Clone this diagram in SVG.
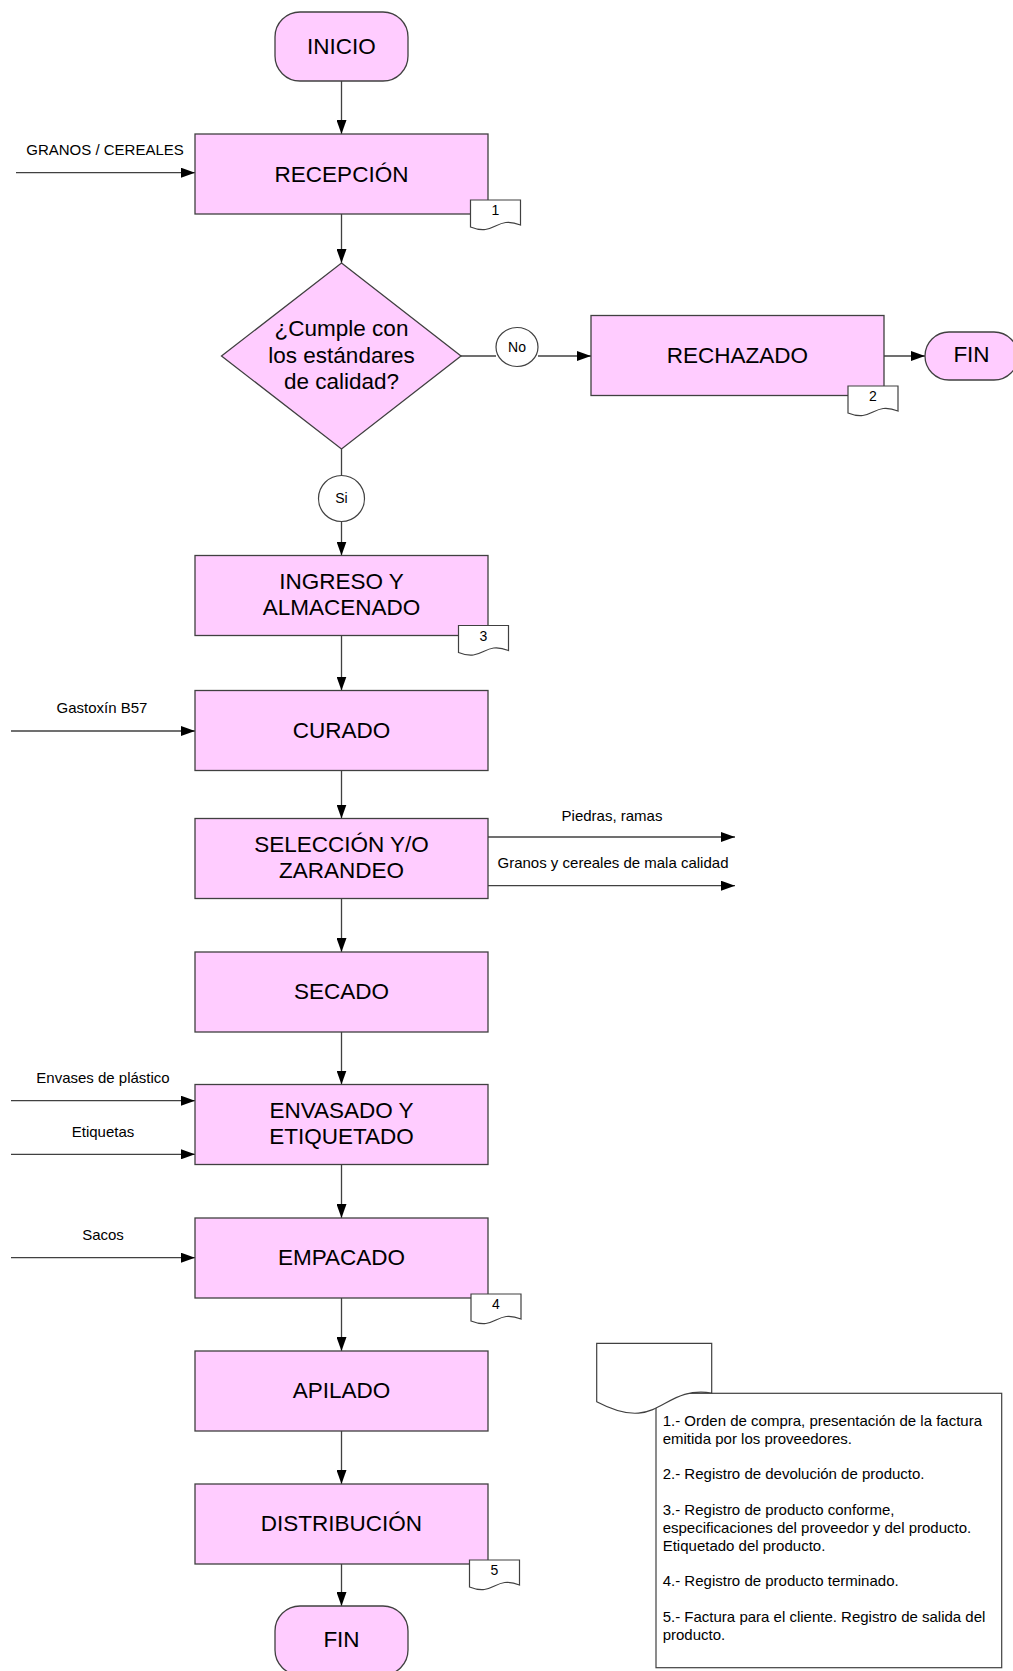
<svg xmlns="http://www.w3.org/2000/svg" width="1013" height="1671" viewBox="0 0 1013 1671">
<style>
text{font-family:"Liberation Sans",Arial,sans-serif;fill:#000}
.proc{fill:#FFCCFF;stroke:#404040;stroke-width:1.3}
.lbl{font-size:22.5px;text-anchor:middle}
.sm{font-size:15px;text-anchor:middle}
.num{font-size:14px;text-anchor:middle}
.conn line{stroke:#404040;stroke-width:1.3;fill:none}
.doc{fill:#fff;stroke:#404040;stroke-width:1.2}
.circ{fill:#fff;stroke:#404040;stroke-width:1.2}
.note{font-size:15px}
</style>
<defs>
<marker id="arr" markerUnits="userSpaceOnUse" markerWidth="14" markerHeight="10" refX="14" refY="5" orient="auto">
<path d="M0,0 L14,5 L0,10 z" fill="#000"/>
</marker>
<path id="tag" d="M0,0 H50 V25 C25,15 25,37 0,27 Z"/>
</defs>
<rect width="1013" height="1671" fill="#fff"/>

<g class="conn">
<line x1="341.5" y1="81" x2="341.5" y2="134" marker-end="url(#arr)"/>
<line x1="341.5" y1="214" x2="341.5" y2="263" marker-end="url(#arr)"/>
<line x1="341.5" y1="449" x2="341.5" y2="475.5"/>
<line x1="341.5" y1="521.5" x2="341.5" y2="555.5" marker-end="url(#arr)"/>
<line x1="341.5" y1="635.5" x2="341.5" y2="690.5" marker-end="url(#arr)"/>
<line x1="341.5" y1="770.5" x2="341.5" y2="818.5" marker-end="url(#arr)"/>
<line x1="341.5" y1="898.5" x2="341.5" y2="952" marker-end="url(#arr)"/>
<line x1="341.5" y1="1032" x2="341.5" y2="1084.5" marker-end="url(#arr)"/>
<line x1="341.5" y1="1164.5" x2="341.5" y2="1218" marker-end="url(#arr)"/>
<line x1="341.5" y1="1298" x2="341.5" y2="1351" marker-end="url(#arr)"/>
<line x1="341.5" y1="1431" x2="341.5" y2="1484" marker-end="url(#arr)"/>
<line x1="341.5" y1="1564" x2="341.5" y2="1606" marker-end="url(#arr)"/>
<line x1="461" y1="356" x2="496" y2="356"/>
<line x1="538" y1="356" x2="591" y2="356" marker-end="url(#arr)"/>
<line x1="884" y1="356" x2="925" y2="356" marker-end="url(#arr)"/>
<line x1="16" y1="172.7" x2="195" y2="172.7" marker-end="url(#arr)"/>
<line x1="11" y1="731" x2="195" y2="731" marker-end="url(#arr)"/>
<line x1="488" y1="837" x2="735" y2="837" marker-end="url(#arr)"/>
<line x1="488" y1="885.7" x2="735" y2="885.7" marker-end="url(#arr)"/>
<line x1="11" y1="1100.7" x2="195" y2="1100.7" marker-end="url(#arr)"/>
<line x1="11" y1="1154.3" x2="195" y2="1154.3" marker-end="url(#arr)"/>
<line x1="11" y1="1257.7" x2="195" y2="1257.7" marker-end="url(#arr)"/>
</g>

<g id="flow-labels">
<text class="sm" x="105" y="155">GRANOS / CEREALES</text>
<text class="sm" x="102" y="713">Gastoxín B57</text>
<text class="sm" x="612" y="820.7">Piedras, ramas</text>
<text class="sm" x="613" y="868">Granos y cereales de mala calidad</text>
<text class="sm" x="103" y="1083">Envases de plástico</text>
<text class="sm" x="103" y="1136.7">Etiquetas</text>
<text class="sm" x="103" y="1240">Sacos</text>
</g>

<g id="inicio">
<rect class="proc" x="275" y="12" width="133" height="69" rx="25" ry="25"/>
<text class="lbl" x="341.5" y="54">INICIO</text>
</g>

<g id="recepcion">
<rect class="proc" x="195" y="134" width="293" height="80"/>
<text class="lbl" x="341.5" y="181.5">RECEPCIÓN</text>
</g>
<g id="doc1">
<use href="#tag" class="doc" x="470.5" y="200"/>
<text class="num" x="495.5" y="215">1</text>
</g>

<g id="decision">
<polygon class="proc" points="341.5,263 461,356 341.5,449 221.5,356"/>
<text class="lbl" x="341.5" y="336">¿Cumple con</text>
<text class="lbl" x="341.5" y="362.5">los estándares</text>
<text class="lbl" x="341.5" y="389">de calidad?</text>
</g>

<g id="no">
<ellipse class="circ" cx="517" cy="347" rx="21" ry="19.5"/>
<text class="num" x="517" y="352">No</text>
</g>

<g id="rechazado">
<rect class="proc" x="591" y="315.5" width="293" height="80"/>
<text class="lbl" x="737.5" y="363">RECHAZADO</text>
</g>
<g id="doc2">
<use href="#tag" class="doc" x="848" y="386"/>
<text class="num" x="873" y="401">2</text>
</g>

<g id="fin-rechazo">
<rect class="proc" x="925" y="332" width="93" height="48" rx="24" ry="24"/>
<text class="lbl" x="971.5" y="362">FIN</text>
</g>

<g id="si">
<circle class="circ" cx="341.5" cy="498.5" r="23"/>
<text class="num" x="341.5" y="503">Si</text>
</g>

<g id="ingreso">
<rect class="proc" x="195" y="555.5" width="293" height="80"/>
<text class="lbl" x="341.5" y="588.5">INGRESO Y</text>
<text class="lbl" x="341.5" y="615">ALMACENADO</text>
</g>
<g id="doc3">
<use href="#tag" class="doc" x="458.5" y="625.5"/>
<text class="num" x="483.5" y="640.7">3</text>
</g>

<g id="curado">
<rect class="proc" x="195" y="690.5" width="293" height="80"/>
<text class="lbl" x="341.5" y="737.5">CURADO</text>
</g>

<g id="seleccion">
<rect class="proc" x="195" y="818.5" width="293" height="80"/>
<text class="lbl" x="341.5" y="851.7">SELECCIÓN Y/O</text>
<text class="lbl" x="341.5" y="877.7">ZARANDEO</text>
</g>

<g id="secado">
<rect class="proc" x="195" y="952" width="293" height="80"/>
<text class="lbl" x="341.5" y="998.5">SECADO</text>
</g>

<g id="envasado">
<rect class="proc" x="195" y="1084.5" width="293" height="80"/>
<text class="lbl" x="341.5" y="1118.3">ENVASADO Y</text>
<text class="lbl" x="341.5" y="1144">ETIQUETADO</text>
</g>

<g id="empacado">
<rect class="proc" x="195" y="1218" width="293" height="80"/>
<text class="lbl" x="341.5" y="1265">EMPACADO</text>
</g>
<g id="doc4">
<use href="#tag" class="doc" x="471" y="1294"/>
<text class="num" x="496" y="1309">4</text>
</g>

<g id="apilado">
<rect class="proc" x="195" y="1351" width="293" height="80"/>
<text class="lbl" x="341.5" y="1398">APILADO</text>
</g>

<g id="distribucion">
<rect class="proc" x="195" y="1484" width="293" height="80"/>
<text class="lbl" x="341.5" y="1531">DISTRIBUCIÓN</text>
</g>
<g id="doc5">
<use href="#tag" class="doc" x="469.5" y="1560"/>
<text class="num" x="494.5" y="1575">5</text>
</g>

<g id="fin">
<rect class="proc" x="275" y="1606" width="133" height="69" rx="25" ry="25"/>
<text class="lbl" x="341.5" y="1647">FIN</text>
</g>

<g id="leyenda">
<rect x="656" y="1393.3" width="345.7" height="274.4" fill="#fff" stroke="#404040" stroke-width="1.2"/>
<path class="doc" d="M596.7,1343.3 H711.7 V1393 C660,1385 660,1435 596.7,1401.7 Z"/>
<text class="note" x="662.7" y="1425.7">
<tspan x="662.7" y="1425.7">1.- Orden de compra, presentación de la factura</tspan>
<tspan x="662.7" y="1443.5">emitida por los proveedores.</tspan>
<tspan x="662.7" y="1479.3">2.- Registro de devolución de producto.</tspan>
<tspan x="662.7" y="1515">3.- Registro de producto conforme,</tspan>
<tspan x="662.7" y="1532.9">especificaciones del proveedor y del producto.</tspan>
<tspan x="662.7" y="1550.7">Etiquetado del producto.</tspan>
<tspan x="662.7" y="1586.4">4.- Registro de producto terminado.</tspan>
<tspan x="662.7" y="1622.1">5.- Factura para el cliente. Registro de salida del</tspan>
<tspan x="662.7" y="1640">producto.</tspan>
</text>
</g>
</svg>
